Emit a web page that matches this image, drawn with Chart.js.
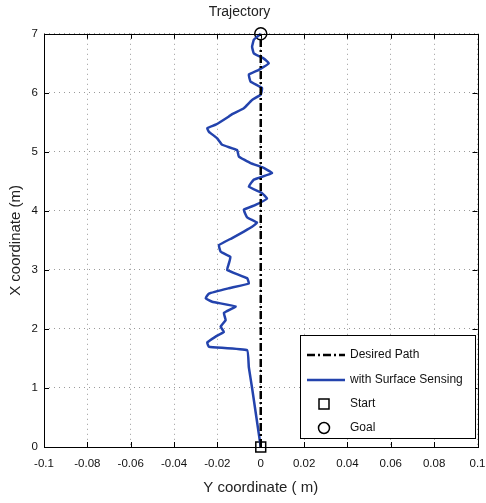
<!DOCTYPE html>
<html>
<head>
<meta charset="utf-8">
<script src="https://cdn.jsdelivr.net/npm/chart.js@4/dist/chart.umd.min.js"></script>
<style>
  html, body { margin: 0; padding: 0; background: #fff; }
  #wrap { width: 486px; height: 503px; }
</style>
</head>
<body>
<div id="wrap"><canvas id="c" width="486" height="503"></canvas></div>
<script>
// Measured trajectory: lateral offset (Y, m) and forward distance (X, m)
const trajY = [0, -0.002, -0.004, -0.0055, -0.0063, -0.0239, -0.0247, -0.0208, -0.017, -0.0185,
  -0.0162, -0.017, -0.0116, -0.0224, -0.0254, -0.0239, -0.0147, -0.0055, -0.0063, -0.0155,
  -0.0147, -0.014, -0.0185, -0.0193, -0.0132, -0.0078, -0.004, -0.0017, -0.0063, -0.0078,
  -0.0024, 0.0029, 0.0006, -0.0055, -0.0032, 0.0052, 0.0006, -0.0047, -0.0101, -0.0109,
  -0.0178, -0.0201, -0.0239, -0.0247, -0.0208, -0.0147, -0.0132, -0.0078, -0.004, 0,
  0.0006, -0.0047, -0.0055, -0.0009, 0.0037, 0.0014, -0.0032, -0.004, -0.0032, -0.0017, 0];
const trajX = [0, 0.5, 1.0, 1.35, 1.64, 1.70, 1.77, 1.87, 1.95, 2.04,
  2.15, 2.27, 2.38, 2.46, 2.52, 2.60, 2.69, 2.77, 2.86, 3.00,
  3.11, 3.22, 3.31, 3.42, 3.54, 3.65, 3.73, 3.80, 3.89, 4.02,
  4.10, 4.21, 4.30, 4.41, 4.53, 4.64, 4.74, 4.81, 4.92, 5.03,
  5.12, 5.23, 5.34, 5.40, 5.46, 5.60, 5.64, 5.74, 5.88, 5.97,
  6.08, 6.19, 6.31, 6.39, 6.50, 6.58, 6.67, 6.78, 6.90, 6.95, 7.0];

// Straight reference path, start and goal
const desiredY = [0, 0];
const desiredX = [0, 7];
const startPoint = [0, 0];
const goalPoint = [0, 7];

// Axis ticks
const xTickLabels = ['-0.1', '-0.08', '-0.06', '-0.04', '-0.02', '0', '0.02', '0.04', '0.06', '0.08', '0.1'];
const yTickLabels = ['0', '1', '2', '3', '4', '5', '6', '7'];

const legendItems = ['Desired Path', 'with Surface Sensing', 'Start', 'Goal'];

const BLUE = '#2343ad';
const FONT = '"Liberation Sans", Arial, sans-serif';

const toPoints = (xs, ys) => xs.map((v, i) => ({ x: v, y: ys[i] }));

// Frame, inward tick marks and boxed legend
const framePlugin = {
  id: 'frame',
  afterDraw(chart) {
    const { ctx, chartArea: a, scales } = chart;
    ctx.save();
    ctx.strokeStyle = '#000';
    ctx.lineWidth = 1;
    const tl = 5;
    ctx.beginPath();
    scales.x.ticks.forEach(t => {
      const px = Math.round(scales.x.getPixelForValue(t.value)) + 0.5;
      ctx.moveTo(px, a.bottom); ctx.lineTo(px, a.bottom - tl);
      ctx.moveTo(px, a.top); ctx.lineTo(px, a.top + tl);
    });
    scales.y.ticks.forEach(t => {
      const py = Math.round(scales.y.getPixelForValue(t.value)) + 0.5;
      ctx.moveTo(a.left, py); ctx.lineTo(a.left + tl, py);
      ctx.moveTo(a.right, py); ctx.lineTo(a.right - tl, py);
    });
    ctx.stroke();
    ctx.strokeRect(Math.round(a.left) + 0.5, Math.round(a.top) + 0.5,
      Math.round(a.right - a.left), Math.round(a.bottom - a.top));

    // legend box
    const bx = 300, by = 335, bw = 175, bh = 103;
    ctx.fillStyle = '#fff';
    ctx.fillRect(bx, by, bw, bh);
    ctx.strokeRect(bx + 0.5, by + 0.5, bw, bh);
    const rows = [355, 380, 404, 428];
    const lx0 = 307, lx1 = 345, mx = 324;
    // dash-dot sample
    ctx.beginPath();
    ctx.setLineDash([8, 3, 2, 3]);
    ctx.lineWidth = 2.5;
    ctx.moveTo(lx0, rows[0]); ctx.lineTo(lx1, rows[0]);
    ctx.stroke();
    ctx.setLineDash([]);
    // solid blue sample
    ctx.beginPath();
    ctx.strokeStyle = BLUE;
    ctx.moveTo(lx0, rows[1]); ctx.lineTo(lx1, rows[1]);
    ctx.stroke();
    // markers
    ctx.strokeStyle = '#000';
    ctx.lineWidth = 1.5;
    ctx.strokeRect(mx - 5, rows[2] - 5, 10, 10);
    ctx.beginPath();
    ctx.arc(mx, rows[3], 5.5, 0, Math.PI * 2);
    ctx.stroke();
    // labels
    ctx.fillStyle = '#111';
    ctx.font = '12px ' + FONT;
    ctx.textBaseline = 'middle';
    ctx.textAlign = 'left';
    legendItems.forEach((s, i) => ctx.fillText(s, 350, rows[i]));
    ctx.restore();
  }
};

new Chart(document.getElementById('c'), {
  type: 'scatter',
  data: {
    datasets: [
      {
        label: legendItems[0],
        data: toPoints(desiredY, desiredX),
        showLine: true,
        borderColor: '#000',
        borderWidth: 2.5,
        borderDash: [8, 3, 2, 3],
        pointRadius: 0,
        clip: false
      },
      {
        label: legendItems[1],
        data: toPoints(trajY, trajX),
        showLine: true,
        borderColor: BLUE,
        borderWidth: 2.5,
        pointRadius: 0,
        tension: 0.1,
        clip: false
      },
      {
        label: legendItems[2],
        data: [{ x: startPoint[0], y: startPoint[1] }],
        pointStyle: 'rect',
        pointRadius: 7,
        borderColor: '#000',
        borderWidth: 1.5,
        backgroundColor: 'rgba(0,0,0,0)',
        clip: false
      },
      {
        label: legendItems[3],
        data: [{ x: goalPoint[0], y: goalPoint[1] }],
        pointStyle: 'circle',
        pointRadius: 6,
        borderColor: '#000',
        borderWidth: 1.5,
        backgroundColor: 'rgba(0,0,0,0)',
        clip: false
      }
    ]
  },
  options: {
    responsive: false,
    animation: false,
    events: [],
    layout: { padding: { left: 0, right: 7, top: 0, bottom: 0 } },
    plugins: {
      legend: { display: false },
      tooltip: { enabled: false },
      title: {
        display: true,
        text: 'Trajectory',
        color: '#222',
        font: { family: FONT, size: 14, weight: 'normal' },
        padding: { top: 4, bottom: 13 }
      }
    },
    scales: {
      x: {
        type: 'linear',
        min: -0.1,
        max: 0.1,
        afterBuildTicks(scale) {
          scale.ticks = xTickLabels.map(v => ({ value: parseFloat(v) }));
        },
        afterFit(scale) {
          scale.height = 56;
          scale.paddingLeft = 0;
          scale.paddingRight = 0;
        },
        ticks: {
          autoSkip: false,
          maxRotation: 0,
          padding: 10,
          color: '#111',
          font: { family: FONT, size: 11.5 },
          callback: (v, i) => xTickLabels[i]
        },
        grid: { color: '#9a9a9a', lineWidth: 1, drawTicks: false },
        border: { display: false, dash: [1, 4] },
        title: {
          display: true,
          text: 'Y coordinate ( m)',
          color: '#222',
          font: { family: FONT, size: 15 },
          padding: { top: 4, bottom: 6 }
        }
      },
      y: {
        type: 'linear',
        min: 0,
        max: 7,
        afterBuildTicks(scale) {
          scale.ticks = yTickLabels.map(v => ({ value: parseFloat(v) }));
        },
        afterFit(scale) {
          scale.width = 44;
          scale.paddingTop = 0;
          scale.paddingBottom = 0;
        },
        ticks: {
          autoSkip: false,
          padding: 6,
          color: '#111',
          font: { family: FONT, size: 11.5 },
          callback: (v, i) => yTickLabels[i]
        },
        grid: { color: '#9a9a9a', lineWidth: 1, drawTicks: false },
        border: { display: false, dash: [1, 4] },
        title: {
          display: true,
          text: 'X coordinate (m)',
          color: '#222',
          font: { family: FONT, size: 15 },
          padding: { top: 7, bottom: 4 }
        }
      }
    }
  },
  plugins: [framePlugin]
});
</script>
</body>
</html>
